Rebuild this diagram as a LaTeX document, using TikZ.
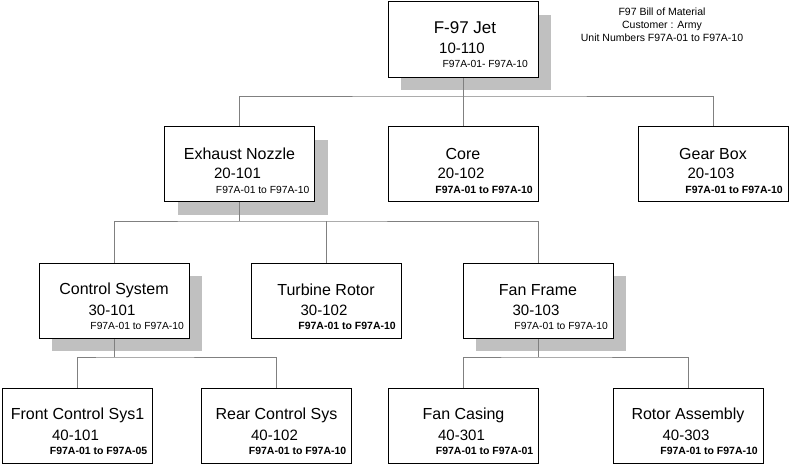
\documentclass[tikz,border=0pt]{standalone}
\usepackage{fontspec}
\setmainfont{Liberation Sans}
\usetikzlibrary{calc}
\definecolor{shadegray}{HTML}{C0C0C0}
\definecolor{linkgray}{HTML}{808080}
\pgfdeclarelayer{shadowlayer}
\pgfdeclarelayer{linklayer}
\pgfsetlayers{shadowlayer,linklayer,main}
\tikzset{
  box/.style={draw=black, fill=white, line width=0.8pt, minimum width=150pt, minimum height=75pt, inner sep=0pt},
  shadowbox/.style={fill=shadegray, draw=none, minimum width=150pt, minimum height=75pt, inner sep=0pt},
  ttl/.style={font=\fontsize{16}{18}\selectfont, inner sep=0pt},
  codetxt/.style={font=\fontsize{15}{17}\selectfont, inner sep=0pt},
  smallreg/.style={font=\fontsize{10.3}{12}\selectfont, inner sep=0pt, anchor=east},
  smallbold/.style={font=\fontsize{10.5}{12}\selectfont\bfseries, inner sep=0pt, anchor=east},
  link/.style={draw=linkgray, line width=0.7pt},
}
% name, cx, cy, title, code, small, small style
\newcommand\bomnode[7]{%
  \node[box] (#1) at (#2,#3) {};
  \node[ttl] (#1-t) at ($(#1.center)+(0,-10.5)$) {#4};
  \node[codetxt] (#1-c) at ($(#1.center)+(-2,9.5)$) {#5};
  \node[#7] (#1-s) at ($(#1.center)+(70,25.5)$) {#6};
}
\newcommand\bomshadow[1]{%
  \begin{pgfonlayer}{shadowlayer}
    \node[shadowbox] (#1-sh) at ($(#1.center)+(13,13)$) {};
  \end{pgfonlayer}
}
\begin{document}
\begin{tikzpicture}[x=1pt,y=-1pt]
\useasboundingbox (0,0) rectangle (789,466);

% top node
\node[box, minimum height=76pt] (jet) at (463,39) {};
\node[ttl, font=\fontsize{17}{19}\selectfont] (jet-t) at (465,28) {F-97 Jet};
\node[codetxt] (jet-c) at (462,48) {10-110};
\node[smallreg] (jet-s) at (528,63.5) {F97A-01- F97A-10};
\bomshadow{jet}

\node[align=center, font=\fontsize{10.5}{13}\selectfont, inner sep=0pt] (info) at (662,25)
  {F97 Bill of Material\\Customer : Army\\Unit Numbers F97A-01 to F97A-10};

% row 2
\bomnode{exh}{239.5}{164}{Exhaust Nozzle}{20-101}{F97A-01 to F97A-10}{smallreg}
\bomshadow{exh}
\bomnode{core}{463}{164}{Core}{20-102}{F97A-01 to F97A-10}{smallbold}
\bomnode{gear}{713}{164}{Gear Box}{20-103}{F97A-01 to F97A-10}{smallbold}

% row 3
\bomnode{ctrl}{114}{300.5}{Control System}{30-101}{F97A-01 to F97A-10}{smallreg}
\bomshadow{ctrl}
\bomnode{turb}{326}{300.5}{Turbine Rotor}{30-102}{F97A-01 to F97A-10}{smallbold}
\bomnode{fan}{538}{300.5}{Fan Frame}{30-103}{F97A-01 to F97A-10}{smallreg}
\bomshadow{fan}

% row 4
\bomnode{front}{77.5}{425.5}{Front Control Sys1}{40-101}{F97A-01 to F97A-05}{smallbold}
\bomnode{rear}{276.5}{425.5}{Rear Control Sys}{40-102}{F97A-01 to F97A-10}{smallbold}
\bomnode{casing}{463.5}{425.5}{Fan Casing}{40-301}{F97A-01 to F97A-01}{smallbold}
\bomnode{rotor}{688}{425.5}{Rotor Assembly}{40-303}{F97A-01 to F97A-10}{smallbold}

% connectors
\coordinate (bus1) at (463,96);
\coordinate (bus2) at (239.5,221);
\coordinate (bus3) at (114,357);
\coordinate (bus4) at (538,357);
\begin{pgfonlayer}{linklayer}
  \draw[link] (jet.south) -- (bus1);
  \draw[link] (exh.north) |- (bus1) -| (gear.north);
  \draw[link] (bus1) -- (core.north);
  \draw[link] (exh.south) -- (bus2);
  \draw[link] (ctrl.north) |- (bus2) -| (fan.north);
  \draw[link] (turb.north) -- (turb.north |- bus2);
  \draw[link] (ctrl.south) -- (bus3);
  \draw[link] (front.north) |- (bus3) -| (rear.north);
  \draw[link] (fan.south) -- (bus4);
  \draw[link] (casing.north) |- (bus4) -| (rotor.north);
\end{pgfonlayer}
\end{tikzpicture}
\end{document}
